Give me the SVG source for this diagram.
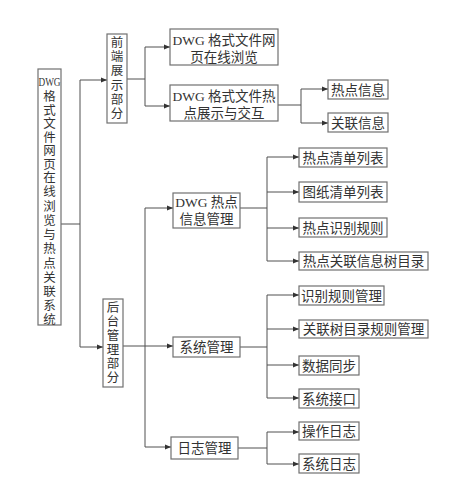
<svg xmlns="http://www.w3.org/2000/svg" width="450" height="481" viewBox="0 0 450 481">
<style>
.bg{fill:#fff}
.box{fill:#fff;stroke:#707070;stroke-width:1.2}
.ln{fill:none;stroke:#505050;stroke-width:1}
.t{font-family:"Liberation Serif","Noto Sans CJK SC",serif;font-size:13.5px;fill:#333;text-anchor:middle;dominant-baseline:central}
.v{font-size:12.5px}
.s{font-size:12px}
</style>
<defs>
<marker id="ar" markerUnits="userSpaceOnUse" markerWidth="6" markerHeight="6" refX="6" refY="3" orient="auto">
<path d="M0,0.5 L6,3 L0,5.5 z" fill="#333"/>
</marker>
</defs>
<rect class="bg" width="450" height="481"/>
<g id="connectors">
<path class="ln" d="M61,224 H80 M80,80 V347"/>
<path class="ln" d="M80,80 H107" marker-end="url(#ar)"/>
<path class="ln" d="M80,347 H103" marker-end="url(#ar)"/>
<path class="ln" d="M127,79 H145 M145,47 V106"/>
<path class="ln" d="M145,47 H170" marker-end="url(#ar)"/>
<path class="ln" d="M145,106 H170" marker-end="url(#ar)"/>
<path class="ln" d="M278,105 H301 M301,89 V123"/>
<path class="ln" d="M301,89 H328" marker-end="url(#ar)"/>
<path class="ln" d="M301,123 H328" marker-end="url(#ar)"/>
<path class="ln" d="M123,346 H173" marker-end="url(#ar)"/>
<path class="ln" d="M145,208 V447"/>
<path class="ln" d="M145,208 H173" marker-end="url(#ar)"/>
<path class="ln" d="M145,447 H171" marker-end="url(#ar)"/>
<path class="ln" d="M240,208 H267 M267,157 V261"/>
<path class="ln" d="M267,157 H299" marker-end="url(#ar)"/>
<path class="ln" d="M267,192 H299" marker-end="url(#ar)"/>
<path class="ln" d="M267,228 H299" marker-end="url(#ar)"/>
<path class="ln" d="M267,261 H299" marker-end="url(#ar)"/>
<path class="ln" d="M240,347 H267 M267,295 V398"/>
<path class="ln" d="M267,295 H299" marker-end="url(#ar)"/>
<path class="ln" d="M267,329 H299" marker-end="url(#ar)"/>
<path class="ln" d="M267,365 H299" marker-end="url(#ar)"/>
<path class="ln" d="M267,398 H299" marker-end="url(#ar)"/>
<path class="ln" d="M238,448 H267 M267,432 V464"/>
<path class="ln" d="M267,432 H299" marker-end="url(#ar)"/>
<path class="ln" d="M267,464 H299" marker-end="url(#ar)"/>
</g>
<g id="root">
<rect class="box" x="38" y="69" width="23" height="256"/>
<text class="t s" x="49.5" y="82" textLength="22" lengthAdjust="spacingAndGlyphs">DWG</text>
<text class="t v" x="49.5" y="97">格</text>
<text class="t v" x="49.5" y="110.5">式</text>
<text class="t v" x="49.5" y="124">文</text>
<text class="t v" x="49.5" y="137.5">件</text>
<text class="t v" x="49.5" y="151">网</text>
<text class="t v" x="49.5" y="164.5">页</text>
<text class="t v" x="49.5" y="178">在</text>
<text class="t v" x="49.5" y="192">线</text>
<text class="t v" x="49.5" y="206.5">浏</text>
<text class="t v" x="49.5" y="221">览</text>
<text class="t v" x="49.5" y="235">与</text>
<text class="t v" x="49.5" y="249">热</text>
<text class="t v" x="49.5" y="263.5">点</text>
<text class="t v" x="49.5" y="278">关</text>
<text class="t v" x="49.5" y="292">联</text>
<text class="t v" x="49.5" y="306">系</text>
<text class="t v" x="49.5" y="320">统</text>
</g>
<g id="front">
<rect class="box" x="107" y="34" width="20" height="89"/>
<text class="t v" x="117" y="43">前</text>
<text class="t v" x="117" y="57">端</text>
<text class="t v" x="117" y="71">展</text>
<text class="t v" x="117" y="86">示</text>
<text class="t v" x="117" y="100">部</text>
<text class="t v" x="117" y="114">分</text>
</g>
<g id="back">
<rect class="box" x="103" y="299" width="20" height="88"/>
<text class="t v" x="113" y="307.5">后</text>
<text class="t v" x="113" y="321.5">台</text>
<text class="t v" x="113" y="335.5">管</text>
<text class="t v" x="113" y="349.5">理</text>
<text class="t v" x="113" y="363.5">部</text>
<text class="t v" x="113" y="377.5">分</text>
</g>
<g id="browse">
<rect class="box" x="170" y="29" width="108" height="36"/>
<text class="t" x="224" y="40">DWG 格式文件网</text>
<text class="t" x="224" y="57">页在线浏览</text>
</g>
<g id="interact">
<rect class="box" x="170" y="85" width="108" height="36"/>
<text class="t" x="224" y="96">DWG 格式文件热</text>
<text class="t" x="224" y="113">点展示与交互</text>
</g>
<g id="hotinfo"><rect class="box" x="328" y="80" width="60" height="19"/><text class="t" x="358" y="90">热点信息</text></g>
<g id="relinfo"><rect class="box" x="328" y="113" width="60" height="19"/><text class="t" x="358" y="123">关联信息</text></g>
<g id="hotmgmt">
<rect class="box" x="173" y="193" width="67" height="35"/>
<text class="t" x="206.5" y="202">DWG 热点</text>
<text class="t" x="206.5" y="219">信息管理</text>
</g>
<g id="sysmgmt"><rect class="box" x="173" y="337" width="67" height="20"/><text class="t" x="206.5" y="347">系统管理</text></g>
<g id="logmgmt"><rect class="box" x="171" y="437" width="67" height="22"/><text class="t" x="204.5" y="448">日志管理</text></g>
<g id="n1"><rect class="box" x="299" y="148" width="88" height="19"/><text class="t" x="343" y="158">热点清单列表</text></g>
<g id="n2"><rect class="box" x="299" y="182" width="88" height="20"/><text class="t" x="343" y="192">图纸清单列表</text></g>
<g id="n3"><rect class="box" x="299" y="218" width="88" height="19"/><text class="t" x="343" y="228">热点识别规则</text></g>
<g id="n4"><rect class="box" x="299" y="252" width="129" height="18"/><text class="t" x="363.5" y="261">热点关联信息树目录</text></g>
<g id="n5"><rect class="box" x="299" y="286" width="85" height="19"/><text class="t" x="341.5" y="296">识别规则管理</text></g>
<g id="n6"><rect class="box" x="299" y="320" width="129" height="18"/><text class="t" x="363.5" y="329">关联树目录规则管理</text></g>
<g id="n7"><rect class="box" x="299" y="356" width="60" height="19"/><text class="t" x="329" y="366">数据同步</text></g>
<g id="n8"><rect class="box" x="299" y="389" width="60" height="19"/><text class="t" x="329" y="399">系统接口</text></g>
<g id="n9"><rect class="box" x="299" y="422" width="60" height="18"/><text class="t" x="329" y="431">操作日志</text></g>
<g id="n10"><rect class="box" x="299" y="454" width="60" height="19"/><text class="t" x="329" y="464">系统日志</text></g>
</svg>
